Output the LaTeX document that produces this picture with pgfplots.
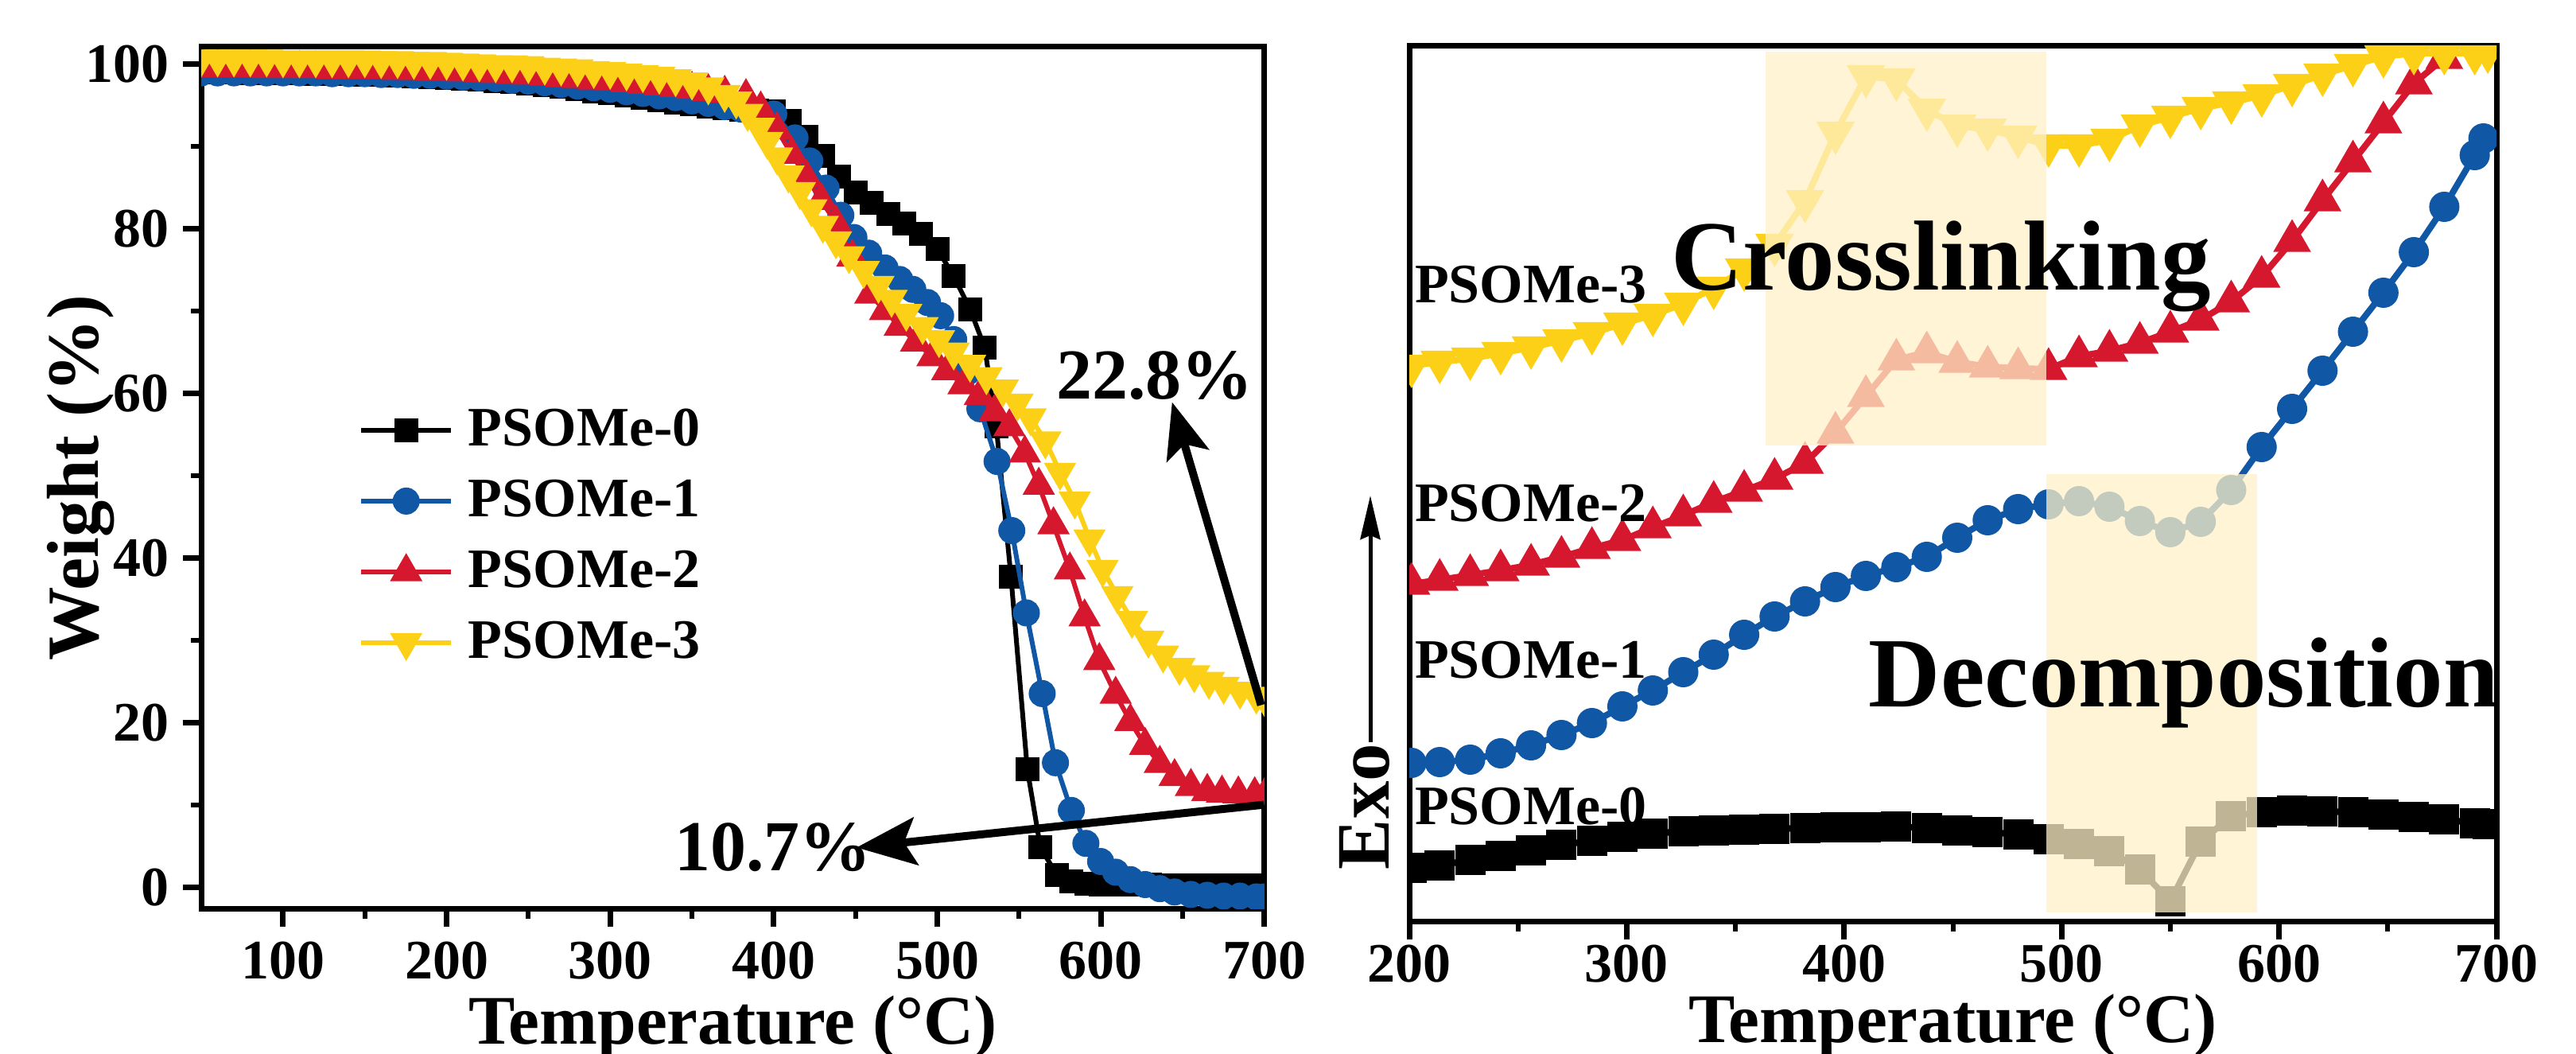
\documentclass[border=0pt]{standalone}
\usepackage{pgfplots}
\pgfplotsset{compat=1.18}
\usepackage{pgfplotstable}
\usepackage{fontspec}
\setmainfont{Liberation Serif}
\usetikzlibrary{arrows.meta}
\newcommand{\fsz}[1]{\fontsize{#1pt}{#1pt}\selectfont\bfseries}
\definecolor{cblue}{RGB}{16,87,165}
\definecolor{cred}{RGB}{214,24,46}
\definecolor{cyel}{RGB}{252,208,22}
\definecolor{cshade}{RGB}{255,242,200}

% ---------------- TGA data ----------------
\pgfplotstableread{
T W
50 99.0
60 99.0
70 99.0
80 98.9
90 98.9
100 98.9
110 98.9
120 98.8
130 98.8
140 98.8
150 98.7
160 98.7
170 98.6
180 98.5
190 98.4
200 98.3
210 98.2
220 98.1
230 97.9
240 97.8
250 97.6
260 97.4
270 97.2
280 96.9
290 96.6
300 96.4
310 96.2
320 95.9
330 95.6
340 95.3
350 95.1
360 94.8
370 94.6
380 94.4
390 94.3
400 94.2
410 93.1
420 91.1
430 88.8
440 86.3
450 84.4
460 83.1
470 81.8
480 80.6
490 79.3
500 77.5
510 74.2
520 70.2
529 65.5
536 56.0
545 37.7
555 14.3
563 4.8
573 1.5
582 0.7
591 0.4
600 0.3
610 0.3
620 0.3
630 0.3
640 0.2
650 0.2
660 0.2
670 0.2
680 0.2
690 0.2
700 0.2
}\tgaA
\pgfplotstableread{
T W
50 98.9
60 98.9
70 98.9
80 98.9
90 98.9
100 98.9
110 98.9
120 98.9
130 98.8
140 98.8
150 98.8
160 98.7
170 98.7
180 98.6
190 98.6
200 98.5
210 98.4
220 98.3
230 98.2
240 98.0
250 97.9
260 97.7
270 97.5
280 97.3
290 97.1
300 96.9
310 96.6
320 96.4
330 96.1
340 95.9
350 95.5
360 95.2
370 94.8
380 94.5
390 94.3
400 93.9
413 91.0
422 88.2
432 84.9
441 81.6
449 78.9
458 77.0
468 75.2
477 73.8
485 72.6
494 71.0
502 69.4
510 66.5
518 62.5
526 58.1
536.5 51.7
545.5 43.3
554.4 33.3
564.1 23.5
572.2 15.1
581.9 9.3
590.8 5.3
599.8 3.1
609 1.8
618 0.9
627 0.3
636 -0.2
645 -0.6
655 -0.9
665 -1.0
675 -1.1
685 -1.1
695 -1.2
700 -1.2
}\tgaB
\pgfplotstableread{
T W
50 99.5
60 99.5
70 99.5
80 99.5
90 99.4
100 99.4
110 99.4
120 99.4
130 99.3
140 99.3
150 99.3
160 99.3
170 99.2
180 99.2
190 99.1
200 99.1
210 99.0
220 98.9
230 98.8
240 98.7
250 98.6
260 98.5
270 98.3
280 98.2
290 98.0
300 97.9
310 97.7
320 97.5
330 97.3
340 97.1
350 96.9
360 96.6
370 96.4
383 96.0
392 94.5
402 92.0
411 89.0
420 86.2
429 83.4
438 80.7
448 76.5
459 72.0
468 70.0
477 68.1
487 66.2
497 64.4
506 62.7
516 61.0
526 59.7
535 57.7
544 55.9
553.5 52.7
562 48.8
571 44.0
581 38.5
590 32.8
599 27.5
609 23.4
618 20.1
627 17.2
636 15.0
645 13.4
655 12.2
665 11.6
674 11.4
684 11.3
694 11.2
700 11.1
}\tgaC
\pgfplotstableread{
T W
50 100.6
60 100.6
70 100.6
80 100.6
90 100.6
100 100.5
110 100.5
120 100.5
130 100.5
140 100.5
150 100.5
160 100.4
170 100.4
180 100.3
190 100.3
200 100.2
210 100.1
220 100.0
230 99.9
240 99.9
250 99.8
260 99.6
270 99.5
280 99.4
290 99.2
300 99.1
310 98.9
320 98.7
330 98.5
340 98.2
350 97.8
360 97.2
370 96.3
377 95.5
384 94.0
391 92.3
396 90.6
402 88.7
409 86.5
416 84.5
423 82.4
430 80.4
438 78.5
446 76.7
455 74.9
464 73.1
472 71.4
481 69.7
491 68.1
501 66.5
510 65.0
520 63.5
530 62.0
540 60.5
549 58.8
557 57.0
566 54.2
575 50.4
584 46.9
593 42.3
601 38.6
610 35.4
619 32.4
629 30.0
638 28.2
648 26.7
657 25.8
666 25.0
675 24.4
685 23.8
695 23.2
700 22.9
}\tgaD

% ---------------- DSC data (arbitrary units) ----------------
\pgfplotstableread{
T V
201 6.7
214 7.0
228 7.7
242 8.2
256 8.9
270 9.6
284 10.1
298 10.6
312 11.0
326 11.3
340 11.4
354 11.5
368 11.6
382 11.7
396 11.8
410 11.8
424 11.9
438 11.7
452 11.4
466 11.2
480 10.9
494 10.3
508 9.7
522 8.8
536 6.5
550 2.5
564 10.0
578 13.2
592 13.7
606 13.9
620 13.8
634 13.7
648 13.4
662 13.1
676 12.8
690 12.3
696 12.2
}\dscA
\pgfplotstableread{
T V
201 19.9
214 20.0
228 20.3
242 21.1
256 22.1
270 23.4
284 24.9
298 27.0
312 29.0
326 31.3
340 33.5
354 36.0
368 38.3
382 40.2
396 42.0
410 43.4
424 44.5
438 45.8
452 48.2
466 50.4
480 51.8
494 52.4
508 52.8
522 52.1
536 50.3
550 48.9
564 50.2
578 54.2
592 59.6
606 64.4
620 69.2
634 74.1
648 79.0
662 84.1
676 89.8
690 96.3
694 98.4
}\dscB
\pgfplotstableread{
T V
201 42.4
214 42.9
228 43.5
242 44.1
256 44.8
270 45.8
284 46.9
298 47.9
312 49.5
326 51.0
340 52.7
354 54.1
368 55.6
382 57.6
396 61.4
410 66.0
424 70.6
438 71.5
452 70.3
466 69.7
480 69.5
494 69.4
508 71.0
522 71.7
536 72.7
550 74.1
564 75.6
578 77.9
592 81.0
606 85.5
620 90.6
634 95.5
648 100.4
662 105.3
676 108.5
690 112.5
700 115.0
}\dscC
\pgfplotstableread{
T V
201 69.8
214 70.3
228 70.7
242 71.4
256 72.1
270 73.0
284 73.9
298 75.1
312 76.2
326 77.6
340 79.6
354 81.9
368 85.0
382 90.5
396 99.1
410 106.2
424 105.8
438 102.0
452 100.0
466 99.5
480 98.6
494 97.5
508 97.5
522 98.2
536 100.0
550 101.1
564 102.2
578 102.9
592 103.8
606 105.1
620 106.4
634 107.6
648 108.7
662 109.1
676 109.1
690 109.1
696 109.3
}\dscD

\pgfplotsset{
  myaxis/.style={
    scale only axis,
    axis line style={line width=1.4pt},
    tick align=outside,
    xtick pos=left, ytick pos=left,
    major tick length=4.6pt, minor tick length=2.6pt,
    every major tick/.append style={line width=1.4pt, black},
    every minor tick/.append style={line width=1.2pt, black},
    minor x tick num=1,
    tick label style={font=\fsz{14}},
    /pgf/number format/assume math mode=true,
    clip marker paths=true,
  },
  tga/.style={line width=1.2pt},
  dsc/.style={line width=1.6pt},
}

\begin{document}
\begin{tikzpicture}
\useasboundingbox (0pt,0pt) rectangle (647.8pt,265pt);

% ================= TGA =================
\begin{axis}[myaxis,
  at={(50.6pt,36.6pt)}, anchor=south west,
  width=267.4pt, height=216.7pt,
  xmin=50, xmax=700, ymin=-2.6, ymax=102.1,
  xtick={100,200,...,700}, ytick={0,20,...,100}, minor y tick num=1,
  xticklabel style={inner sep=0.5pt, yshift=-3.17pt},
  xlabel={Temperature (°C)}, ylabel={Weight (\%)},
  every axis x label/.style={at={(axis description cs:0.5,-0.1569)}, anchor=base, inner sep=0pt, font=\fsz{17.5}},
  every axis y label/.style={at={(axis description cs:-0.0965,0.5)}, rotate=90, anchor=base, inner sep=0pt, font=\fsz{18.5}},
  legend style={at={(0.1477,0.5898)}, anchor=north west, draw=none, fill=none,
    inner sep=0pt, font=\fsz{14}, row sep=3pt,
    nodes={inner xsep=3.8pt, inner ysep=2pt}},
  legend cell align=left,
  legend image code/.code={\draw[mark repeat=2,mark phase=2] plot coordinates {(0pt,0pt) (11.25pt,0pt) (22.5pt,0pt)};},
]
\addplot[tga, black, mark=square*, mark size=2.4pt] table[x=T,y=W] {\tgaA};
\addlegendentry{PSOMe-0}
\addplot[tga, cblue, mark=*, mark size=2.8pt] table[x=T,y=W] {\tgaB};
\addlegendentry{PSOMe-1}
\addplot[tga, cred, mark=triangle*, mark size=3.5pt] table[x=T,y=W] {\tgaC};
\addlegendentry{PSOMe-2}
\addplot[tga, cyel, mark=triangle*, mark size=3.5pt, mark options={rotate=180}] table[x=T,y=W] {\tgaD};
\addlegendentry{PSOMe-3}

\draw[line width=2pt, -{Stealth[length=14pt,width=11pt,inset=3pt]}] (axis cs:697.9,22.1) -- (axis cs:643.5,58.9);
\draw[line width=2pt, -{Stealth[length=15pt,width=12pt,inset=3pt]}] (axis cs:699.7,10.0) -- (axis cs:450.6,4.8);
\node[anchor=base west, inner sep=0pt, font=\fsz{18}] at (axis cs:572.2,59.3) {22.8\%};
\node[anchor=base west, inner sep=0pt, font=\fsz{18}] at (axis cs:338.9,2.0) {10.7\%};
\end{axis}

% ================= DSC =================
\begin{axis}[myaxis,
  at={(354.4pt,33.4pt)}, anchor=south west,
  width=273.4pt, height=220.1pt,
  xmin=200, xmax=700, ymin=0, ymax=110.05,
  xtick={200,300,...,700}, ytick={500},
  xticklabel style={inner sep=0.5pt, yshift=-0.7pt},
  xlabel={Temperature (°C)},
  every axis x label/.style={at={(axis description cs:0.5,-0.139)}, anchor=base, inner sep=0pt, font=\fsz{17.5}},
]
\addplot[dsc, black, mark=square*, mark size=3pt] table[x=T,y=V] {\dscA};
\addplot[dsc, cblue, mark=*, mark size=3pt] table[x=T,y=V] {\dscB};
\addplot[dsc, cred, mark=triangle*, mark size=3.9pt] table[x=T,y=V] {\dscC};
\addplot[dsc, cyel, mark=triangle*, mark size=4pt, mark options={rotate=180}] table[x=T,y=V] {\dscD};

\fill[cshade, fill opacity=0.75] (axis cs:364,59.8) rectangle (axis cs:493,109.3);
\fill[cshade, fill opacity=0.75] (axis cs:493,1.1) rectangle (axis cs:590,56.2);

\node[anchor=base west, inner sep=0pt, font=\fsz{14}] at (axis cs:202.2,77.7) {PSOMe-3};
\node[anchor=base west, inner sep=0pt, font=\fsz{14}] at (axis cs:202.2,50.2) {PSOMe-2};
\node[anchor=base west, inner sep=0pt, font=\fsz{14}] at (axis cs:202.2,30.5) {PSOMe-1};
\node[anchor=base west, inner sep=0pt, font=\fsz{14}] at (axis cs:202.2,12.1) {PSOMe-0};
\node[anchor=base west, inner sep=0pt, font=\fsz{25}] at (axis cs:320,79.3) {Crosslinking};
\node[anchor=base west, inner sep=0pt, font=\fsz{25}] at (axis cs:411,26.9) {Decomposition};
\end{axis}

% Exo arrow
\node[rotate=90, anchor=base, inner sep=0pt, font=\fsz{19}] at (349.3pt,62.2pt) {Exo};
\draw[line width=1pt, -{Stealth[length=11pt,width=5pt,inset=1pt]}] (344.6pt,78.4pt) -- (344.6pt,140.4pt);
\end{tikzpicture}
\end{document}
